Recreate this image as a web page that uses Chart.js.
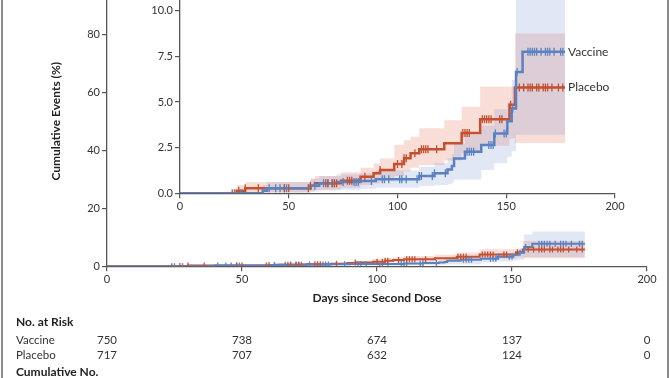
<!DOCTYPE html>
<html><head><meta charset="utf-8">
<script src="https://cdn.jsdelivr.net/npm/chart.js@4.4.1/dist/chart.umd.min.js"></script>
<style>
html,body{margin:0;padding:0;background:#fff;overflow:hidden;}
#wrap{position:relative;width:670px;height:378px;overflow:hidden;}
#frame{position:absolute;left:1px;top:0;width:664px;height:378px;border-left:2px solid #8a8a8a;border-right:2px solid #8a8a8a;}
#outer{position:absolute;left:0;top:-40px;}
#inset{position:absolute;left:130px;top:-40px;}
</style></head>
<body><div id="wrap"><div id="frame"></div>
<canvas id="outer" width="670" height="418"></canvas>
<canvas id="inset" width="500" height="262"></canvas>
</div>
<script>
// Kaplan-Meier steps (day, cumulative %) and 95% CI
var vacDays = [0, 38, 40, 60, 64, 72, 83, 90, 110, 117, 123, 125, 126, 131, 138.5, 144.5, 150.5, 152.5, 154.5, 157.5, 177];
var vacPct  = [0, 0.14, 0.27, 0.41, 0.55, 0.62, 0.68, 0.77, 0.95, 1.1, 1.3, 1.5, 1.9, 2.28, 2.64, 3.28, 3.95, 4.65, 6.65, 7.75, 7.75];
var vacLo   = [0, 0.02, 0.05, 0.1, 0.15, 0.2, 0.25, 0.3, 0.4, 0.45, 0.5, 0.6, 0.75, 0.75, 1.28, 1.64, 2.0, 2.3, 3.2, 3.2, 3.2];
var vacHi   = [0, 0.45, 0.6, 0.8, 0.95, 1.05, 1.1, 1.25, 1.45, 1.65, 1.9, 2.15, 2.7, 3.2, 3.7, 4.6, 5.0, 6.2, 11, 12, 12];

var plaDays = [0, 26, 30, 60, 62, 74, 83, 89, 92, 98.5, 103, 106, 110, 121.5, 129.5, 138, 151.5, 154, 177];
var plaPct  = [0, 0.14, 0.27, 0.41, 0.55, 0.69, 0.91, 1.1, 1.28, 1.6, 1.92, 2.19, 2.41, 2.74, 3.3, 4.05, 4.85, 5.8, 5.8];
var plaLo   = [0, 0.02, 0.05, 0.1, 0.2, 0.3, 0.45, 0.55, 0.7, 0.95, 1.2, 1.4, 1.55, 1.8, 2.2, 2.6, 3.0, 2.75, 2.75];
var plaHi   = [0, 0.45, 0.62, 0.8, 0.95, 1.15, 1.4, 1.65, 1.9, 2.64, 2.9, 3.1, 3.56, 4.0, 4.74, 5.84, 5.84, 8.75, 8.75];

// censored observations (days)
var vacCensor = [25, 28, 41, 44, 46, 48, 49, 62, 66, 68, 70, 71, 75, 80, 81, 82, 88, 93, 94, 96, 101, 102, 104, 109, 110, 111, 116, 117, 122, 132, 133, 134, 135, 142, 143, 144, 145, 149, 150, 153, 155, 160, 161, 162, 163, 164, 166, 168, 169, 170, 172, 175, 176];
var plaCensor = [24, 27, 30, 36, 48, 50, 59, 60, 67, 68, 70, 71, 72, 77, 78, 79, 85, 92, 100, 102, 103, 104, 108, 111, 112, 113, 114, 118, 130, 131, 132, 133, 139, 140, 141, 142, 143, 147, 148, 152, 156, 158, 160, 161, 162, 164, 165, 167, 168, 169, 171, 174, 176];

var riskDays = [0, 50, 100, 150, 200];
var riskVaccine = [750, 738, 674, 137, 0];
var riskPlacebo = [717, 707, 632, 124, 0];

var BLUE = '#5a82c0', RED = '#c4502f';
var BLUE_BAND = 'rgba(120,145,210,0.22)', RED_BAND = 'rgba(235,135,110,0.28)';
var FONT = 'Lato';
var AXIS = '#555';

function pts(days, vals) {
  return days.map(function (d, i) { return {x: d, y: vals[i]}; });
}
function kmAt(days, vals, d) {
  var v = 0;
  for (var i = 0; i < days.length; i++) { if (days[i] <= d) v = vals[i]; }
  return v;
}
function censorPts(cd, days, vals) {
  return cd.map(function (d) { return {x: d, y: kmAt(days, vals, d)}; });
}

function makeDatasets(lw, tick) {
  var band = {pointRadius: 0, borderWidth: 0, stepped: true, order: 3};
  return [
    Object.assign({data: pts(vacDays, vacHi), fill: '+1', backgroundColor: BLUE_BAND}, band),
    Object.assign({data: pts(vacDays, vacLo), fill: false}, band),
    Object.assign({data: pts(plaDays, plaHi), fill: '+1', backgroundColor: RED_BAND}, band),
    Object.assign({data: pts(plaDays, plaLo), fill: false}, band),
    {data: pts(plaDays, plaPct), borderColor: RED, borderWidth: lw, pointRadius: 0, stepped: true, fill: false, order: 2},
    {data: pts(vacDays, vacPct), borderColor: BLUE, borderWidth: lw, pointRadius: 0, stepped: true, fill: false, order: 1},
    {data: censorPts(plaCensor, plaDays, plaPct), showLine: false, pointStyle: 'line', rotation: 90,
     pointRadius: tick, borderColor: RED, pointBorderWidth: 1.3, order: 0},
    {data: censorPts(vacCensor, vacDays, vacPct), showLine: false, pointStyle: 'line', rotation: 90,
     pointRadius: tick, borderColor: BLUE, pointBorderWidth: 1.3, order: 0}
  ];
}

function axisCommon() {
  return {
    grid: {display: true, drawOnChartArea: false, drawTicks: true, tickLength: 5, color: AXIS, lineWidth: 1.2},
    border: {display: true, color: AXIS, width: 1.3},
    ticks: {color: '#333', font: {family: FONT, size: 11}, padding: 2}
  };
}

Chart.defaults.font.family = FONT;

// outer chart: full 0-100 scale
var ox = axisCommon();
ox.type = 'linear'; ox.min = 0; ox.max = 200;
ox.ticks.stepSize = 50; ox.ticks.maxRotation = 0;
ox.title = {display: true, text: 'Days since Second Dose', color: '#222', font: {family: FONT, size: 12, weight: 'bold'}, padding: {top: 4, bottom: 4}};
ox.afterFit = function (s) { s.height = 43; };
var oy = axisCommon();
oy.min = 0; oy.max = 100; oy.ticks.stepSize = 20;
oy.title = {display: true, text: 'Cumulative Events (%)', color: '#222', font: {family: FONT, size: 12, weight: 'bold'}, padding: {top: 4, bottom: 4}};
oy.afterFit = function (s) { s.width = 62; };

var riskTable = {
  id: 'riskTable',
  afterDraw: function (chart) {
    var ctx = chart.ctx, xs = chart.scales.x, off = 40;
    ctx.save();
    ctx.fillStyle = '#222';
    ctx.textBaseline = 'middle';
    ctx.textAlign = 'left';
    ctx.font = 'bold 12px ' + FONT;
    ctx.fillText('No. at Risk', 16, 322 + off);
    ctx.fillText('Cumulative No.', 16, 372 + off);
    ctx.font = '11.5px ' + FONT;
    ctx.fillStyle = '#333';
    ctx.fillText('Vaccine', 16, 340 + off);
    ctx.fillText('Placebo', 16, 355 + off);
    ctx.textAlign = 'center';
    riskDays.forEach(function (d, i) {
      var px = xs.getPixelForValue(d);
      ctx.fillText(String(riskVaccine[i]), px, 340 + off);
      ctx.fillText(String(riskPlacebo[i]), px, 355 + off);
    });
    ctx.restore();
  }
};

new Chart(document.getElementById('outer'), {
  type: 'line',
  data: {datasets: makeDatasets(2, 3)},
  options: {
    responsive: false, animation: false,
    layout: {padding: {left: 45, right: 23, top: 16.3, bottom: 68.7}},
    plugins: {legend: {display: false}, tooltip: {enabled: false}},
    scales: {x: ox, y: oy}
  },
  plugins: [riskTable]
});

// inset: zoomed 0-12 scale
var ix = axisCommon();
ix.type = 'linear'; ix.min = 0; ix.max = 200;
ix.ticks.stepSize = 50; ix.ticks.maxRotation = 0;
ix.afterFit = function (s) { s.height = 28.7; };
var iy = axisCommon();
iy.min = 0; iy.max = 12; iy.ticks.stepSize = 2.5; iy.ticks.includeBounds = false;
iy.ticks.callback = function (v) { return v.toFixed(1); };
iy.afterFit = function (s) { s.width = 50; };

var endLabels = {
  id: 'endLabels',
  afterDatasetsDraw: function (chart) {
    var ctx = chart.ctx, xs = chart.scales.x, ys = chart.scales.y;
    var px = xs.getPixelForValue(vacDays[vacDays.length - 1]) + 3;
    ctx.save();
    ctx.font = '12px ' + FONT;
    ctx.fillStyle = '#333';
    ctx.textBaseline = 'middle';
    ctx.fillText('Vaccine', px, ys.getPixelForValue(vacPct[vacPct.length - 1]));
    ctx.fillText('Placebo', px, ys.getPixelForValue(plaPct[plaPct.length - 1]));
    ctx.restore();
  }
};

new Chart(document.getElementById('inset'), {
  type: 'line',
  data: {datasets: makeDatasets(2.5, 4)},
  options: {
    responsive: false, animation: false,
    layout: {padding: {left: 0, right: 15, top: 14.2, bottom: 0}},
    plugins: {legend: {display: false}, tooltip: {enabled: false}},
    scales: {x: ix, y: iy}
  },
  plugins: [endLabels]
});
</script>
</body></html>
